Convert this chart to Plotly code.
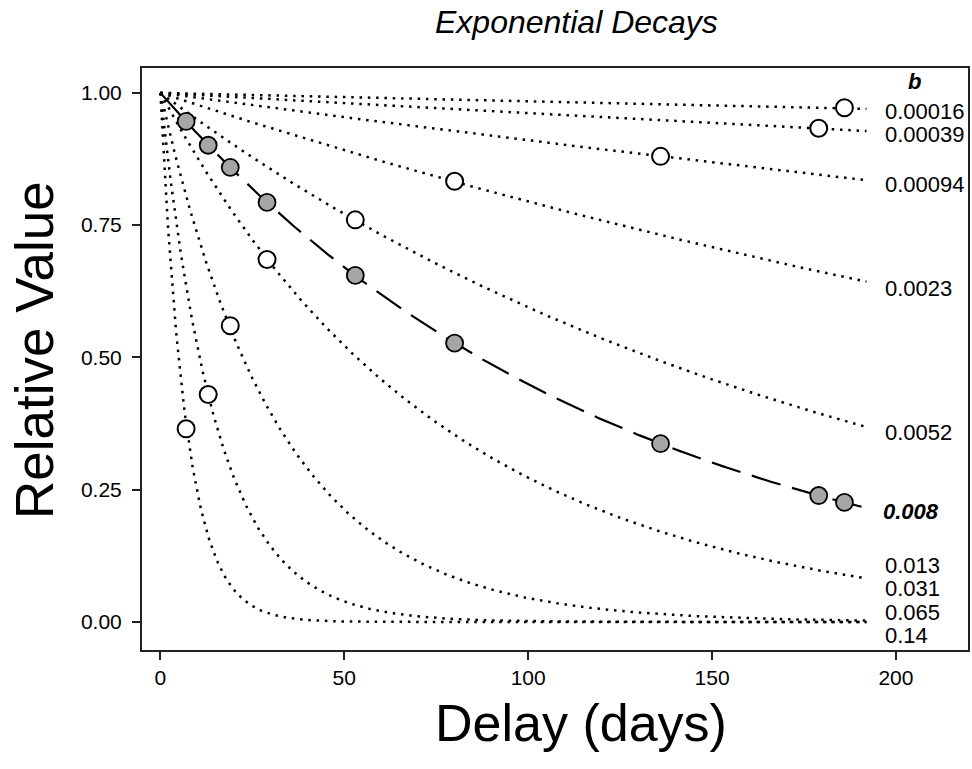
import numpy as np
import plotly.graph_objects as go

# decay constants (b) of the dotted reference curves, labelled at right
b_values = [0.00016, 0.00039, 0.00094, 0.0023, 0.0052, 0.013, 0.031, 0.065, 0.14]
b_labels = ["0.00016", "0.00039", "0.00094", "0.0023", "0.0052", "0.013", "0.031", "0.065", "0.14"]
label_y = [0.964, 0.921, 0.826, 0.631, 0.359, 0.106, 0.064, 0.017, -0.025]

# highlighted (dashed) curve
b_main = 0.008
main_label_y = 0.208

# open circles: one per reference curve
open_delay = [186, 179, 136, 80, 53, 29, 19, 13, 7]
open_value = [0.972, 0.933, 0.880, 0.833, 0.760, 0.685, 0.560, 0.430, 0.365]

# filled circles on the b = 0.008 curve
filled_delay = [7, 13, 19, 29, 53, 80, 136, 179, 186]
filled_value = [0.946, 0.901, 0.859, 0.793, 0.655, 0.527, 0.337, 0.239, 0.226]

t_end = 192
t = np.linspace(0, t_end, 600)

fig = go.Figure()

for b in b_values:
    fig.add_trace(go.Scatter(
        x=t, y=np.exp(-b * t), mode="lines",
        line=dict(color="black", width=2.5, dash="2.5px,5.8px"),
        hoverinfo="skip", showlegend=False))

fig.add_trace(go.Scatter(
    x=t, y=np.exp(-b_main * t), mode="lines",
    line=dict(color="black", width=2.2, dash="30px,12px"),
    hoverinfo="skip", showlegend=False))

fig.add_trace(go.Scatter(
    x=open_delay, y=open_value, mode="markers",
    marker=dict(size=17, color="white", line=dict(color="black", width=2)),
    showlegend=False))

fig.add_trace(go.Scatter(
    x=filled_delay, y=filled_value, mode="markers",
    marker=dict(size=17, color="#a6a6a6", line=dict(color="black", width=1.8)),
    showlegend=False))

FONT = "Liberation Sans, Arial"
lab_font = dict(family=FONT, size=22, color="black")
for txt, yy in zip(b_labels, label_y):
    fig.add_annotation(x=196.5, y=yy, text=txt, showarrow=False,
                       xanchor="left", yanchor="middle", font=lab_font)
fig.add_annotation(x=196.0, y=main_label_y, text="<b><i>0.008</i></b>", showarrow=False,
                   xanchor="left", yanchor="middle", font=lab_font)
fig.add_annotation(x=205, y=1.021, text="<b><i>b</i></b>", showarrow=False,
                   xanchor="center", yanchor="middle", font=lab_font)

# title and axis titles
fig.add_annotation(xref="paper", yref="paper", x=0.5266, y=1.079,
                   text="<i>Exponential Decays</i>", showarrow=False,
                   xanchor="center", yanchor="middle",
                   font=dict(family=FONT, size=32, color="black"))
fig.add_annotation(xref="paper", yref="paper", x=-0.131, y=0.515,
                   text="Relative Value", showarrow=False, textangle=-90,
                   xanchor="center", yanchor="middle",
                   font=dict(family=FONT, size=53, color="black"))
fig.add_annotation(xref="paper", yref="paper", x=0.531, y=-0.1254,
                   text="Delay (days)", showarrow=False,
                   xanchor="center", yanchor="middle",
                   font=dict(family=FONT, size=52, color="black"))

axis_common = dict(showgrid=False, zeroline=False, showline=True, linecolor="#222",
                   linewidth=2, mirror=True, ticks="outside", ticklen=8, tickwidth=2,
                   tickcolor="#222",
                   tickfont=dict(family=FONT, size=21, color="black"))

fig.update_xaxes(range=[-5, 219.6], tickvals=[0, 50, 100, 150, 200], **axis_common)
fig.update_yaxes(range=[-0.053, 1.047], tickvals=[0, 0.25, 0.5, 0.75, 1.0],
                 tickformat=".2f", ticklabelstandoff=6, **axis_common)

fig.update_layout(width=972, height=769, plot_bgcolor="white", paper_bgcolor="white",
                  margin=dict(l=142, r=2, t=68, b=119), showlegend=False)

fig.write_html("out.html", config={"displayModeBar": False},
               post_script="document.body.style.margin='0';"
                           "document.body.style.overflow='hidden';")
